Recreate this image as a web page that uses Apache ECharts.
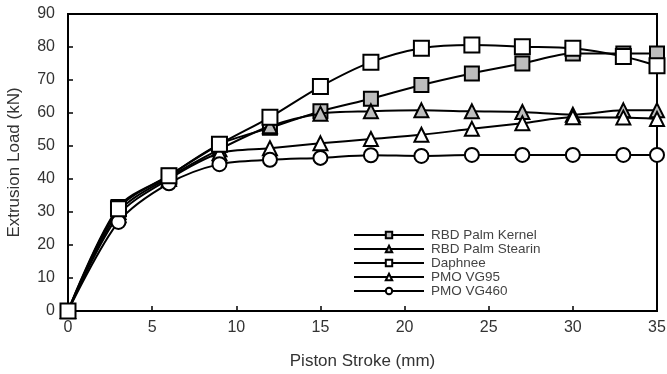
<!DOCTYPE html>
<html><head><meta charset="utf-8">
<script src="https://cdn.jsdelivr.net/npm/echarts@6/dist/echarts.min.js"></script>
<style>html,body{margin:0;padding:0;background:#fff}#c{width:667px;height:374px}</style>
</head><body><div id="c"></div>
<script>
const stroke = [0, 3, 6, 9, 12, 15, 18, 21, 24, 27, 30, 33, 35];
const palmKernel = [0, 31.5, 41, 50.5, 55.5, 60.5, 64.3, 68.5, 72, 75, 78, 78, 78];
const palmStearin = [0, 30, 40.5, 49, 56, 59.8, 60.5, 60.8, 60.5, 60.3, 59.5, 60.8, 60.8];
const daphnee = [0, 31, 41, 50.5, 58.7, 68, 75.4, 79.6, 80.6, 80.1, 79.6, 77.1, 74.3];
const vg95 = [0, 29, 40, 47.8, 49.3, 50.8, 52.1, 53.4, 55.2, 56.9, 58.7, 58.6, 58.2];
const vg460 = [0, 27, 38.7, 44.5, 45.8, 46.4, 47.2, 47, 47.3, 47.3, 47.3, 47.3, 47.3];
const xTicks = [0, 5, 10, 15, 20, 25, 30, 35];
const yTicks = [0, 10, 20, 30, 40, 50, 60, 70, 80, 90];

const names = ['RBD Palm Kernel', 'RBD Palm Stearin', 'Daphnee', 'PMO VG95', 'PMO VG460'];
const datasets = [palmKernel, palmStearin, daphnee, vg95, vg460];
const symbols = ['rect', 'triangle', 'rect', 'triangle', 'circle'];
const fills = ['#bdbdbd', '#bdbdbd', '#ffffff', '#ffffff', '#ffffff'];
const sizes = [14, 14, 15, 14, 14];

const FONT = 'Liberation Sans, Arial, sans-serif';
const chart = echarts.init(document.getElementById('c'), null, {renderer: 'canvas'});
const series = names.map((n, i) => ({
  name: n,
  type: 'line',
  smooth: 0.3,
  data: stroke.map((x, j) => [x, datasets[i][j]]),
  symbol: symbols[i],
  symbolSize: sizes[i],
  lineStyle: {color: '#000', width: 2},
  itemStyle: {color: fills[i], borderColor: '#000', borderWidth: 2},
  z: 2 + i
}));
series[2].z = 10;

chart.setOption({
  animation: false,
  backgroundColor: '#fff',
  textStyle: {fontFamily: FONT},
  grid: {left: 68, right: 10, top: 14, bottom: 63, containLabel: false, outerBoundsMode: 'none',
         show: true, borderColor: '#000', borderWidth: 2, backgroundColor: 'transparent'},
  legend: {
    left: 353, top: 228, orient: 'vertical', itemGap: 0, padding: 0,
    itemWidth: 70, itemHeight: 8,
    textStyle: {fontSize: 13.5, lineHeight: 13.5, color: '#444', fontFamily: FONT, padding: [0, 0, 0, 2]},
    data: names
  },
  xAxis: {
    type: 'value', min: 0, max: 35, interval: 5,
    name: 'Piston Stroke (mm)', nameLocation: 'middle', nameGap: 42,
    nameTextStyle: {fontSize: 17, color: '#333'},
    axisLine: {lineStyle: {color: '#000', width: 2}},
    axisTick: {inside: true, length: 5, lineStyle: {color: '#000', width: 1.5}},
    axisLabel: {fontSize: 16, color: '#333', margin: 9, formatter: v => xTicks.includes(v) ? String(v) : ''},
    splitLine: {show: false}
  },
  yAxis: {
    type: 'value', min: 0, max: 90, interval: 10,
    name: 'Extrusion Load (kN)', nameLocation: 'middle', nameGap: 45,
    nameTextStyle: {fontSize: 17, color: '#333'},
    axisLine: {lineStyle: {color: '#000', width: 2}},
    axisTick: {inside: true, length: 5, lineStyle: {color: '#000', width: 1.5}},
    axisLabel: {fontSize: 16, color: '#333', margin: 13, formatter: v => yTicks.includes(v) ? String(v) : ''},
    splitLine: {show: false}
  },
  series: series
});
</script></body></html>
